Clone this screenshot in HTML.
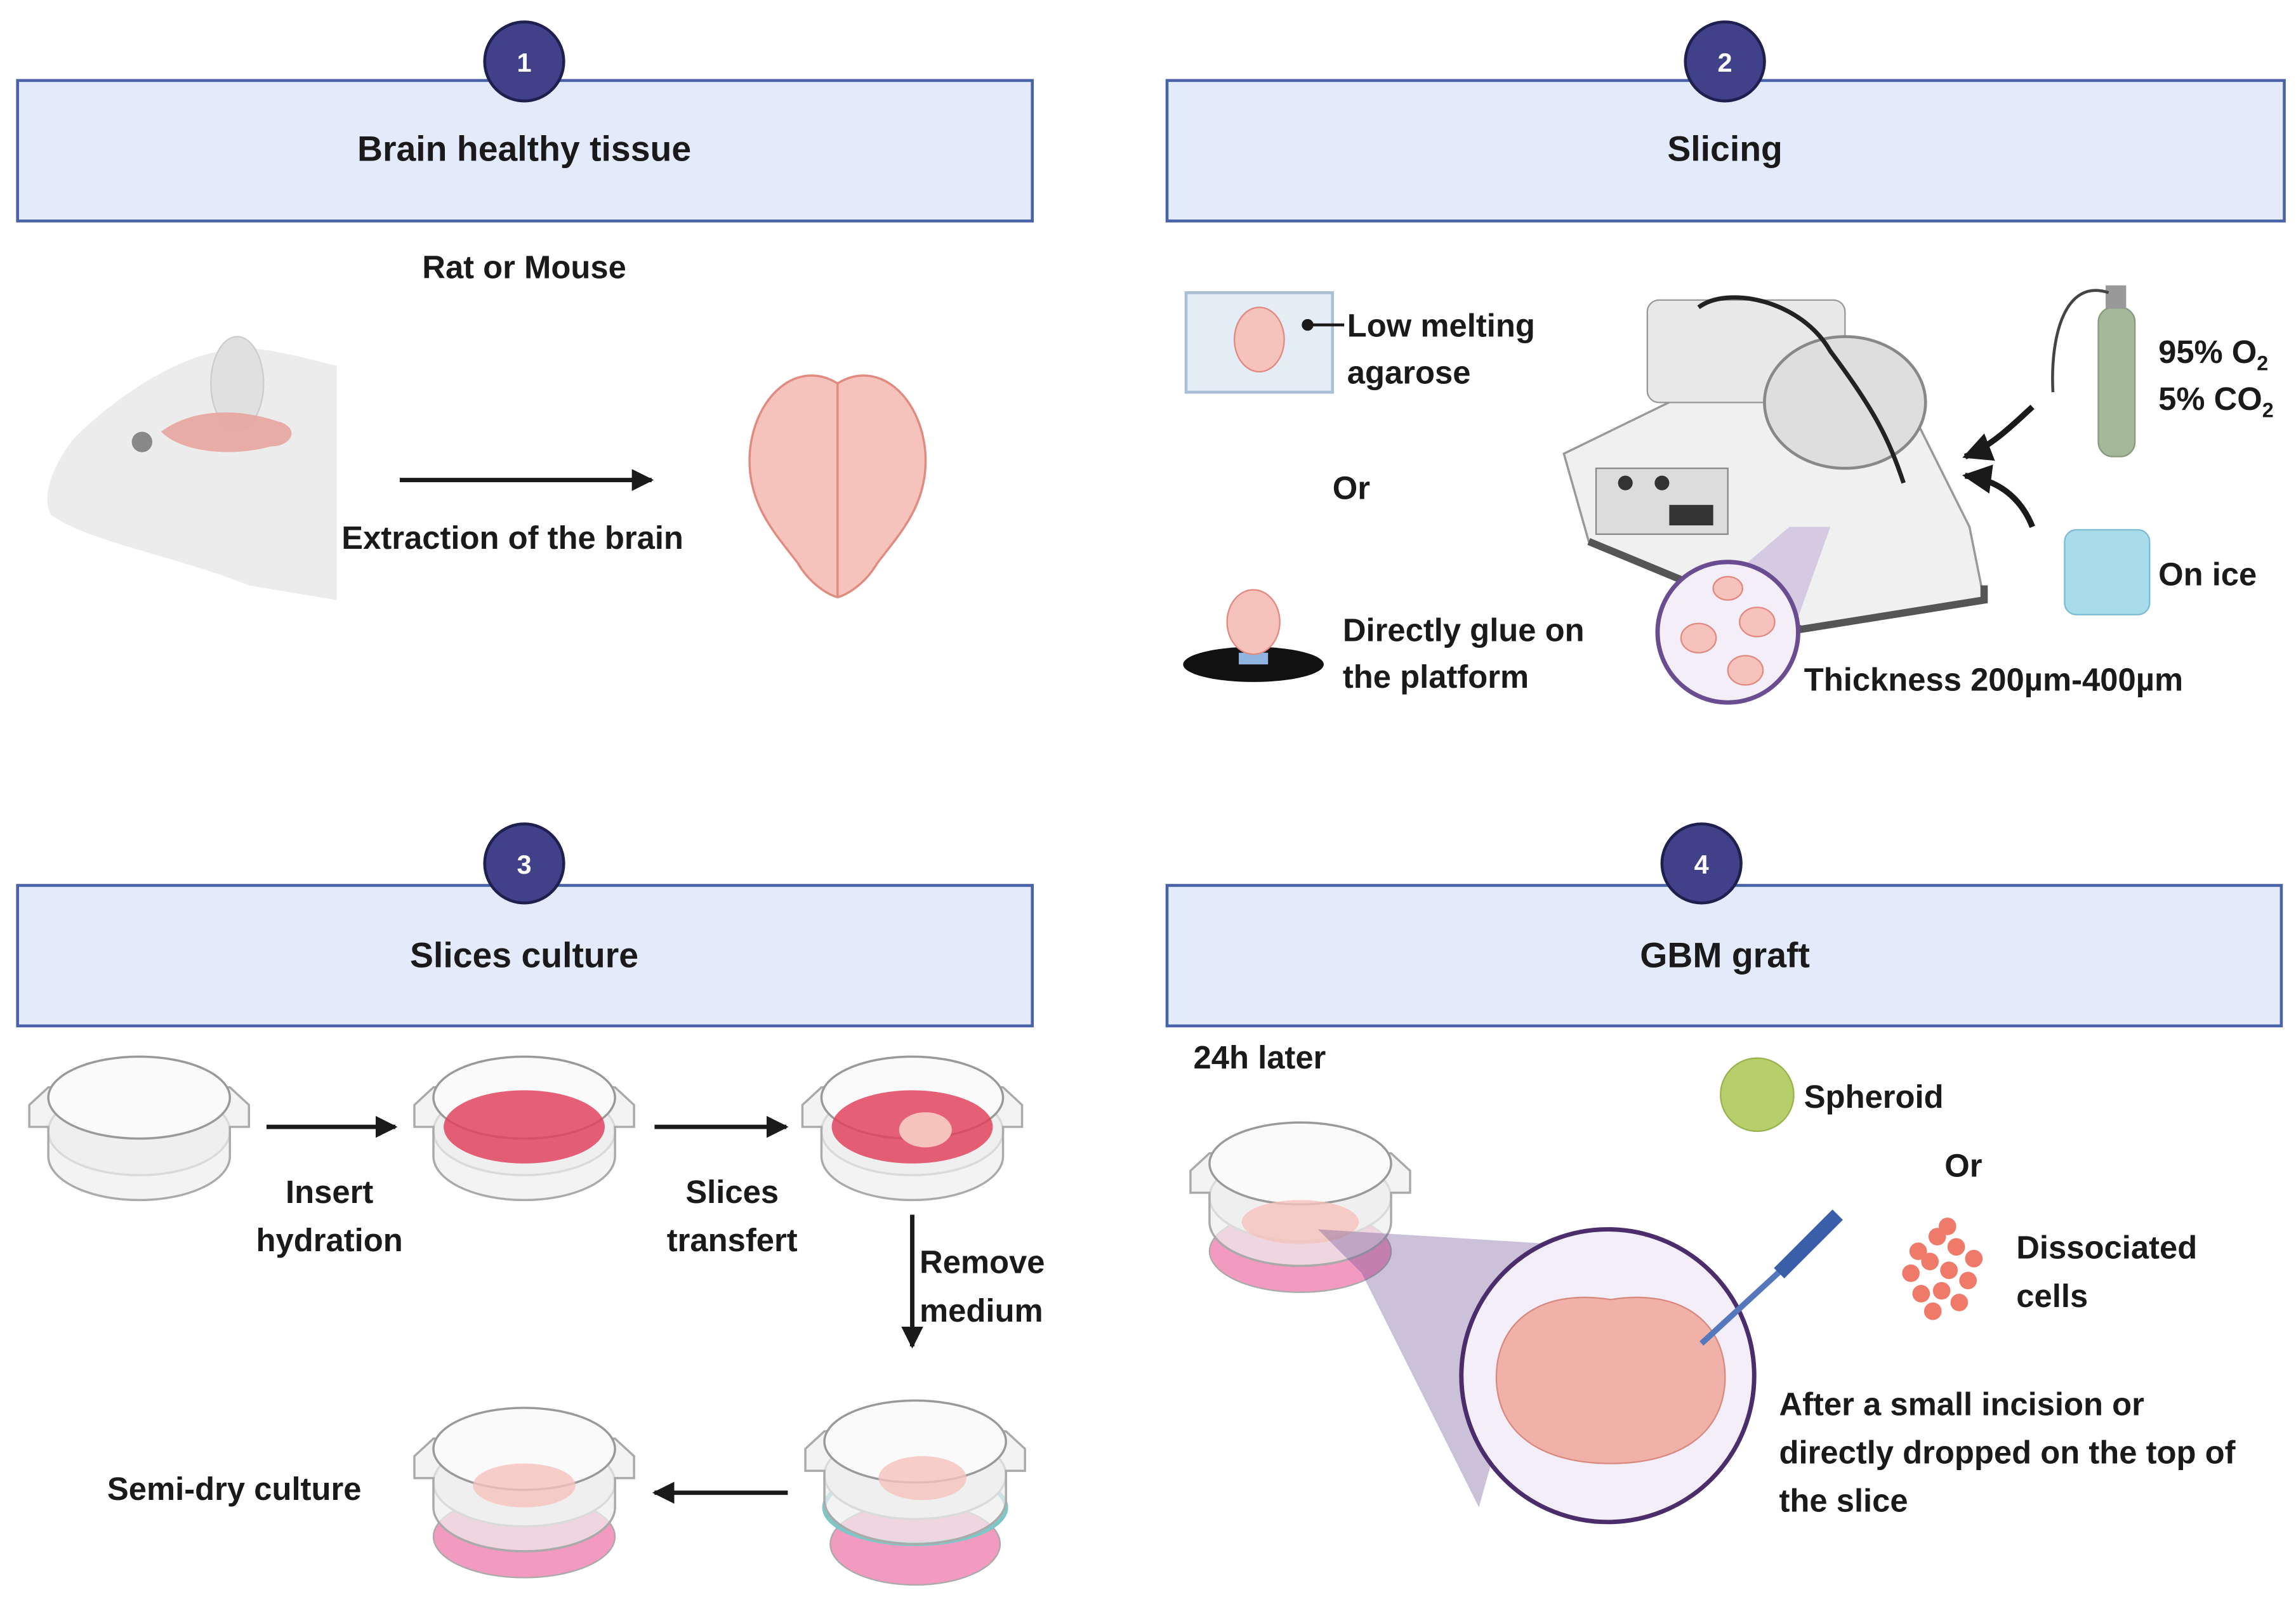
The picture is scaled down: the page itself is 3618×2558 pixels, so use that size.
<!DOCTYPE html>
<html><head><meta charset="utf-8"><style>
html,body{margin:0;padding:0;background:#fff}
svg{display:block}
text{font-family:"Liberation Sans",sans-serif;font-weight:bold;fill:#1a1a1a}
</style></head><body>
<svg width="3618" height="2558" viewBox="0 0 1568 1109" preserveAspectRatio="none" xmlns="http://www.w3.org/2000/svg">
<defs>
<marker id="ah" viewBox="0 0 10 10" refX="9" refY="5" markerWidth="5" markerHeight="5" orient="auto"><path d="M0,0 L10,5 L0,10 z" fill="#1a1a1a"/></marker>
<g id="dish">
<ellipse cx="0" cy="8" rx="62" ry="30" fill="#f2f2f2" stroke="#aaa" stroke-width="1.5"/>
<path d="M-75,-10 L-62,-22 L62,-22 L75,-10 L75,5 L62,5 L62,25 A62,30 0 0 1 -62,25 L-62,5 L-75,5 z" fill="#eeeeee" fill-opacity="0.7" stroke="#aaa" stroke-width="1.5"/>
<ellipse cx="0" cy="-15" rx="62" ry="28" fill="#fafafa" stroke="#999" stroke-width="1.5"/>
</g>
</defs>
<!-- Panel headers -->
<rect x="12" y="55" width="693" height="96" fill="#e3ebfb" stroke="#4a62a8" stroke-width="2"/>
<rect x="797" y="55" width="763" height="96" fill="#e3ebfb" stroke="#4a62a8" stroke-width="2"/>
<rect x="12" y="605" width="693" height="96" fill="#e3ebfb" stroke="#4a62a8" stroke-width="2"/>
<rect x="797" y="605" width="761" height="96" fill="#e3ebfb" stroke="#4a62a8" stroke-width="2"/>
<g font-size="18">
<circle cx="358" cy="42" r="27" fill="#41418a" stroke="#1f1f50" stroke-width="2"/><text x="358" y="49" text-anchor="middle" style="fill:#fff">1</text>
<circle cx="1178" cy="42" r="27" fill="#41418a" stroke="#1f1f50" stroke-width="2"/><text x="1178" y="49" text-anchor="middle" style="fill:#fff">2</text>
<circle cx="358" cy="590" r="27" fill="#41418a" stroke="#1f1f50" stroke-width="2"/><text x="358" y="597" text-anchor="middle" style="fill:#fff">3</text>
<circle cx="1162" cy="590" r="27" fill="#41418a" stroke="#1f1f50" stroke-width="2"/><text x="1162" y="597" text-anchor="middle" style="fill:#fff">4</text>
</g>
<g font-size="24" text-anchor="middle">
<text x="358" y="110">Brain healthy tissue</text>
<text x="1178" y="110">Slicing</text>
<text x="358" y="661">Slices culture</text>
<text x="1178" y="661">GBM graft</text>
</g>
<!-- Panel 1 -->
<text x="358" y="190" font-size="22" text-anchor="middle">Rat or Mouse</text>
<path d="M230,250 C190,240 170,235 150,240 C120,245 80,270 50,300 C35,320 28,340 35,352 C60,370 120,380 170,400 L230,410 z" fill="#ececec"/>
<ellipse cx="162" cy="262" rx="18" ry="32" fill="#e0e0e0" stroke="#ccc"/>
<path d="M110,295 C130,280 160,278 190,288 C205,292 200,305 185,305 C160,312 125,310 110,295 z" fill="#e8a5a0" opacity="0.9"/>
<circle cx="97" cy="302" r="7" fill="#888"/>
<line x1="273" y1="328" x2="445" y2="328" stroke="#1a1a1a" stroke-width="3" marker-end="url(#ah)"/>
<text x="350" y="375" font-size="22" text-anchor="middle">Extraction of the brain</text>
<path d="M572,262 C545,245 515,270 512,310 C510,345 530,365 545,385 C555,402 570,408 572,408 C574,408 589,402 599,385 C614,365 634,345 632,310 C629,270 599,245 572,262 z" fill="#f5c2bc" stroke="#e08a80" stroke-width="1.5"/>
<line x1="572" y1="262" x2="572" y2="408" stroke="#e08a80" stroke-width="1.5"/>
<!-- Panel 2 -->
<rect x="810" y="200" width="100" height="68" fill="#e4ecf6" stroke="#a9bfd6" stroke-width="2"/>
<ellipse cx="860" cy="232" rx="17" ry="22" fill="#f5c2bc" stroke="#e08a80"/>
<circle cx="893" cy="222" r="4" fill="#1a1a1a"/><line x1="893" y1="222" x2="918" y2="222" stroke="#1a1a1a" stroke-width="2"/>
<g font-size="22">
<text x="920" y="230">Low melting</text>
<text x="920" y="262">agarose</text>
<text x="910" y="341">Or</text>
<text x="917" y="438">Directly glue on</text>
<text x="917" y="470">the platform</text>
<text x="1232" y="472">Thickness 200µm-400µm</text>
<text x="1474" y="248">95% O<tspan font-size="14" dy="5">2</tspan></text>
<text x="1474" y="280">5% CO<tspan font-size="14" dy="5">2</tspan></text>
<text x="1474" y="400">On ice</text>
</g>
<ellipse cx="856" cy="454" rx="48" ry="12" fill="#111"/>
<rect x="846" y="446" width="20" height="8" fill="#8fb4e0"/>
<ellipse cx="856" cy="425" rx="18" ry="22" fill="#f5c2bc" stroke="#e08a80"/>
<!-- microtome -->
<path d="M1068,310 L1150,270 L1300,270 L1345,360 L1355,410 L1230,430 L1085,370 z" fill="#f0f0f0" stroke="#999" stroke-width="1.5"/>
<path d="M1085,370 L1230,430 L1355,410 L1355,400" fill="none" stroke="#555" stroke-width="5"/>
<rect x="1125" y="205" width="135" height="70" rx="8" fill="#e8e8e8" stroke="#999"/>
<ellipse cx="1260" cy="275" rx="55" ry="45" fill="#dedede" stroke="#888" stroke-width="2"/>
<rect x="1090" y="320" width="90" height="45" fill="#dcdcdc" stroke="#888"/>
<g fill="#333"><circle cx="1110" cy="330" r="5"/><circle cx="1135" cy="330" r="5"/><rect x="1140" y="345" width="30" height="14"/></g>
<path d="M1160,210 C1180,195 1230,205 1250,240 C1280,280 1290,300 1300,330" fill="none" stroke="#222" stroke-width="3"/>
<polygon points="1222,360 1250,360 1225,430 1140,430" fill="#b9a4d4" opacity="0.5"/>
<circle cx="1180" cy="432" r="48" fill="#f4eef8" stroke="#6a4d90" stroke-width="3"/>
<g fill="#f5c2bc" stroke="#e08a80"><ellipse cx="1160" cy="436" rx="12" ry="10"/><ellipse cx="1200" cy="425" rx="12" ry="10"/><ellipse cx="1192" cy="458" rx="12" ry="10"/><ellipse cx="1180" cy="402" rx="10" ry="8"/></g>
<rect x="1433" y="210" width="25" height="102" rx="10" fill="#a6b89a" stroke="#889a7c"/>
<rect x="1438" y="195" width="14" height="16" fill="#999"/>
<path d="M1440,200 C1410,190 1400,230 1402,268" fill="none" stroke="#444" stroke-width="2"/>
<path d="M1388,278 C1375,290 1360,305 1342,312" fill="none" stroke="#1a1a1a" stroke-width="4" marker-end="url(#ah)"/>
<path d="M1388,360 C1380,340 1365,328 1342,325" fill="none" stroke="#1a1a1a" stroke-width="4" marker-end="url(#ah)"/>
<rect x="1410" y="362" width="58" height="58" rx="8" fill="#a8dceb" stroke="#7bbcd2"/>
<!-- Panel 3 -->
<use href="#dish" x="95" y="765"/>
<line x1="182" y1="770" x2="270" y2="770" stroke="#1a1a1a" stroke-width="3" marker-end="url(#ah)"/>
<g font-size="22" text-anchor="middle">
<text x="225" y="822">Insert</text><text x="225" y="855">hydration</text>
<text x="500" y="822">Slices</text><text x="500" y="855">transfert</text>
<text x="160" y="1025">Semi-dry culture</text>
</g>
<g font-size="22"><text x="628" y="870">Remove</text><text x="628" y="903">medium</text></g>
<use href="#dish" x="358" y="765"/>
<ellipse cx="358" cy="770" rx="55" ry="25" fill="#e0435f" opacity="0.85"/>
<line x1="447" y1="770" x2="537" y2="770" stroke="#1a1a1a" stroke-width="3" marker-end="url(#ah)"/>
<use href="#dish" x="623" y="765"/>
<ellipse cx="623" cy="770" rx="55" ry="25" fill="#e0435f" opacity="0.85"/>
<ellipse cx="632" cy="772" rx="18" ry="12" fill="#f5c2bc"/>
<line x1="623" y1="830" x2="623" y2="920" stroke="#1a1a1a" stroke-width="3" marker-end="url(#ah)"/>
<ellipse cx="625" cy="1055" rx="58" ry="28" fill="#f29ac0" stroke="#aaa"/>
<ellipse cx="625" cy="1030" rx="62" ry="25" fill="none" stroke="#7fc7c7" stroke-width="3"/>
<use href="#dish" x="625" y="1000"/>
<ellipse cx="630" cy="1010" rx="30" ry="15" fill="#f5c2bc" opacity="0.8"/>
<line x1="538" y1="1020" x2="447" y2="1020" stroke="#1a1a1a" stroke-width="3" marker-end="url(#ah)"/>
<ellipse cx="358" cy="1050" rx="62" ry="28" fill="#f29ac0" stroke="#aaa"/>
<use href="#dish" x="358" y="1005"/>
<ellipse cx="358" cy="1015" rx="35" ry="15" fill="#f5c2bc" opacity="0.8"/>
<!-- Panel 4 -->
<text x="815" y="730" font-size="22">24h later</text>
<ellipse cx="888" cy="855" rx="62" ry="28" fill="#f29ac0" stroke="#aaa"/>
<use href="#dish" x="888" y="810"/>
<ellipse cx="888" cy="835" rx="40" ry="15" fill="#f5c2bc" opacity="0.8"/>
<polygon points="900,840 930,870 1010,1030 1060,850" fill="#6a4d90" opacity="0.35"/>
<circle cx="1098" cy="940" r="100" fill="#f4eef8" stroke="#4a2d6a" stroke-width="3"/>
<path d="M1100,888 C1050,880 1020,905 1022,945 C1025,985 1060,1000 1100,1000 C1140,1000 1175,985 1178,945 C1180,905 1150,880 1100,888 z" fill="#f0b1a8" stroke="#d88a80"/>
<circle cx="1200" cy="748" r="25" fill="#b7cf6a" stroke="#9ab24f"/>
<g font-size="22">
<text x="1232" y="757">Spheroid</text>
<text x="1328" y="804">Or</text>
<text x="1377" y="860">Dissociated</text>
<text x="1377" y="893">cells</text>
<text x="1215" y="967">After a small incision or</text>
<text x="1215" y="1000">directly dropped on the top of</text>
<text x="1215" y="1033">the slice</text>
</g>
<g fill="#f07a6a">
<circle cx="1310" cy="855" r="6"/><circle cx="1323" cy="845" r="6"/><circle cx="1336" cy="852" r="6"/><circle cx="1348" cy="860" r="6"/>
<circle cx="1305" cy="870" r="6"/><circle cx="1318" cy="862" r="6"/><circle cx="1331" cy="868" r="6"/><circle cx="1344" cy="875" r="6"/>
<circle cx="1312" cy="884" r="6"/><circle cx="1326" cy="882" r="6"/><circle cx="1338" cy="890" r="6"/><circle cx="1320" cy="896" r="6"/><circle cx="1330" cy="838" r="6"/>
</g>
<line x1="1162" y1="918" x2="1225" y2="860" stroke="#5577bb" stroke-width="4"/>
<line x1="1215" y1="870" x2="1255" y2="830" stroke="#3a5fa8" stroke-width="10"/>
</svg>
</body></html>
